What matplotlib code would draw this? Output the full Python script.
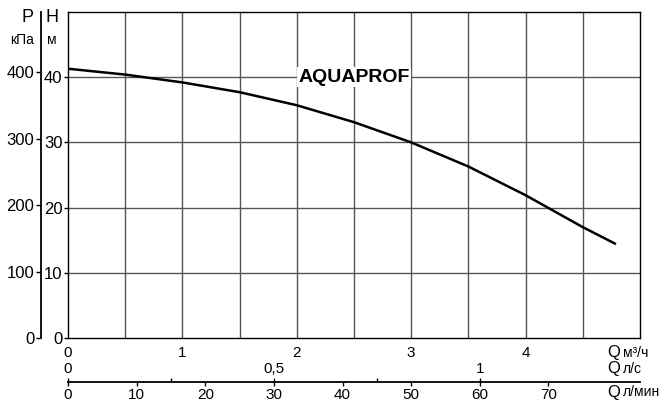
import matplotlib
matplotlib.use("Agg")
import matplotlib.pyplot as plt
import numpy as np

plt.rcParams['font.family'] = ['Liberation Sans', 'DejaVu Sans']

# pump curve: flow in m3/h, head in m
q_m3h = [0, 0.5, 1.0, 1.5, 2.0, 2.5, 3.0, 3.5, 4.0, 4.5, 4.79]
head_m = [41.3, 40.4, 39.2, 37.7, 35.7, 33.1, 30.0, 26.3, 21.9, 17.0, 14.4]

h_ticks = [0, 10, 20, 30, 40]
p_ticks = [0, 100, 200, 300, 400]
q_ticks = [0, 1, 2, 3, 4]
ls_ticks = [0, 0.25, 0.5, 0.75, 1.0]
ls_labels = ['0', '', '0,5', '', '1']
lmin_ticks = [0, 10, 20, 30, 40, 50, 60, 70]

brand = 'AQUAPROF'

Q_MAX, H_MAX = 5, 50
L, B, W, HT = 68/665, 63/401, 572/665, 326/401

fig = plt.figure(figsize=(6.65, 4.01), dpi=100)
ax = fig.add_axes([L, B, W, HT])

ax.plot(q_m3h, head_m, color='black', lw=1.8, solid_capstyle='butt', zorder=3)
ax.set_xlim(0, Q_MAX)
ax.set_ylim(0, H_MAX)

# grid every 0.5 m3/h and every 10 m
for x in np.arange(0.5, Q_MAX, 0.5):
    ax.axvline(x, color='#555555', lw=1, zorder=1)
for y in h_ticks[1:]:
    ax.axhline(y, color='#555555', lw=1, zorder=1)
ax.set_yticks(h_ticks)
ax.set_xticks(q_ticks)
ax.tick_params(axis='x', length=0, pad=6, labelsize=11)
ax.tick_params(axis='y', length=3, width=1, pad=1, labelsize=12)
for s in ax.spines.values():
    s.set_linewidth(1)

def bare(a):
    a.patch.set_visible(False)
    for s in a.spines.values():
        s.set_visible(False)

# pressure axis in kPa (1 m = 9.81 kPa)
pax = fig.add_axes([40/665, B, 20/665, HT])
bare(pax)
pax.set_ylim(0, H_MAX * 9.81)
pax.set_yticks(p_ticks)
pax.set_xticks([])
pax.tick_params(length=3, width=1, pad=1, labelsize=12)
ax.plot([-27.5/572, -27.5/572], [0, 1], transform=ax.transAxes, clip_on=False,
        color='black', lw=1.3)

# flow axes in l/s and l/min below, sharing one line
yb = (401 - 382) / 401
lmin = fig.add_axes([L, yb, W, 0.03])
bare(lmin)
lmin.set_xlim(0, Q_MAX * 1000 / 60)
lmin.set_xticks(lmin_ticks)
lmin.set_yticks([])
lmin.tick_params(length=3, width=1, pad=1, labelsize=11)
ax.plot([0, 1], [-43.5/326, -43.5/326], transform=ax.transAxes, clip_on=False,
        color='black', lw=1.3)

ls = fig.add_axes([L, yb - 0.03, W, 0.03])
bare(ls)
ls.set_xlim(0, Q_MAX / 3.6)
ls.xaxis.set_ticks_position('top')
ls.set_xticks(ls_ticks)
ls.set_xticklabels(ls_labels)
ls.set_yticks([])
ls.tick_params(length=3, width=1, pad=1, labelsize=11)

ax.text(2.5, 40, brand, ha='center', va='center', fontsize=14, fontweight='bold',
        bbox=dict(facecolor='white', edgecolor='none', pad=1), zorder=4)

# axis captions
fig.text(27/665, 1 - 18/401, 'P', ha='center', va='center', fontsize=13)
fig.text(22/665, 1 - 40/401, 'кПа', ha='center', va='center', fontsize=10)
fig.text(52/665, 1 - 18/401, 'H', ha='center', va='center', fontsize=13)
fig.text(52/665, 1 - 40/401, 'м', ha='center', va='center', fontsize=10)

for ypix, unit in [(353, 'м³/ч'), (369, 'л/с'), (392, 'л/мин')]:
    fig.text(607/665, 1 - ypix/401, 'Q', ha='left', va='center', fontsize=12)
    fig.text(623/665, 1 - ypix/401, unit, ha='left', va='center', fontsize=10)

fig.savefig('out.png', dpi=100)
